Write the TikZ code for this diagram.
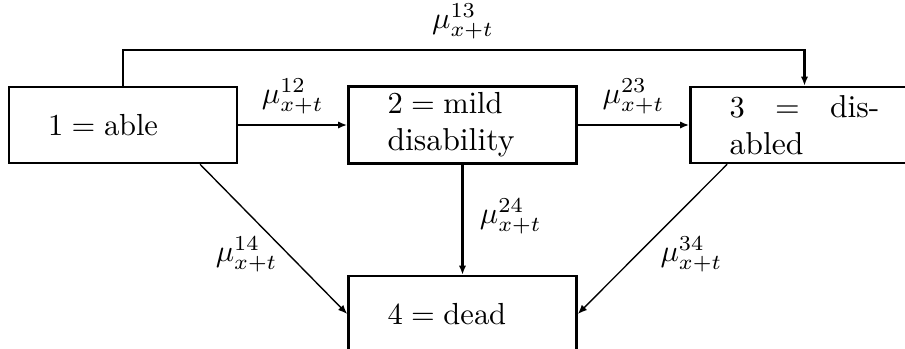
\documentclass[tikz,border=0pt]{standalone}
\usetikzlibrary{arrows.meta,calc}
\begin{document}
\begin{tikzpicture}[x=0.328pt,y=-0.328pt,
  every node/.style={font=\fontsize{10.4pt}{12.1pt}\selectfont},
  statebox/.style={draw,line width=0.85pt,text width=49.2pt,inner xsep=12.8pt,inner ysep=2pt,
    minimum height=24.9pt,align=justify},
  tr/.style={-{Latex[length=3pt,width=2.4pt]},line width=0.8pt},
  trthin/.style={-{Latex[length=3pt,width=2.4pt]},line width=0.45pt}]
\useasboundingbox (0,0) rectangle (905,348);
\node[statebox] (b1) at (123,125) {$1=\mathrm{able}$};
\node[statebox] (b2) at (462.5,125) {$2=\mathrm{mild}$\\disability};
\node[statebox] (b3) at (804.5,125) {$3$ = disabled};
\node[statebox] (b4) at (462.5,314) {$4=\mathrm{dead}$};
\coordinate (top) at (463,50);
\draw[tr] (b1) -- node[above] {$\mu^{12}_{x+t}$} (b2);
\draw[tr] (b2) -- node[above] {$\mu^{23}_{x+t}$} (b3);
\draw[tr] (b1.north) |- (top) node[above] {$\mu^{13}_{x+t}$} -| (b3.north);
\draw[tr] (b2) -- node[pos=0.47,right=2pt] {$\mu^{24}_{x+t}$} (b4);
\coordinate (s1) at ($(b1.south)+(77,0)$);
\coordinate (s3) at ($(b3.south west)+(38,0)$);
\draw[trthin] (s1) -- node[pos=0.6,left] {$\mu^{14}_{x+t}$} (b4.west);
\draw[trthin] (s3) -- node[pos=0.6,right=4pt] {$\mu^{34}_{x+t}$} (b4.east);
\end{tikzpicture}
\end{document}
